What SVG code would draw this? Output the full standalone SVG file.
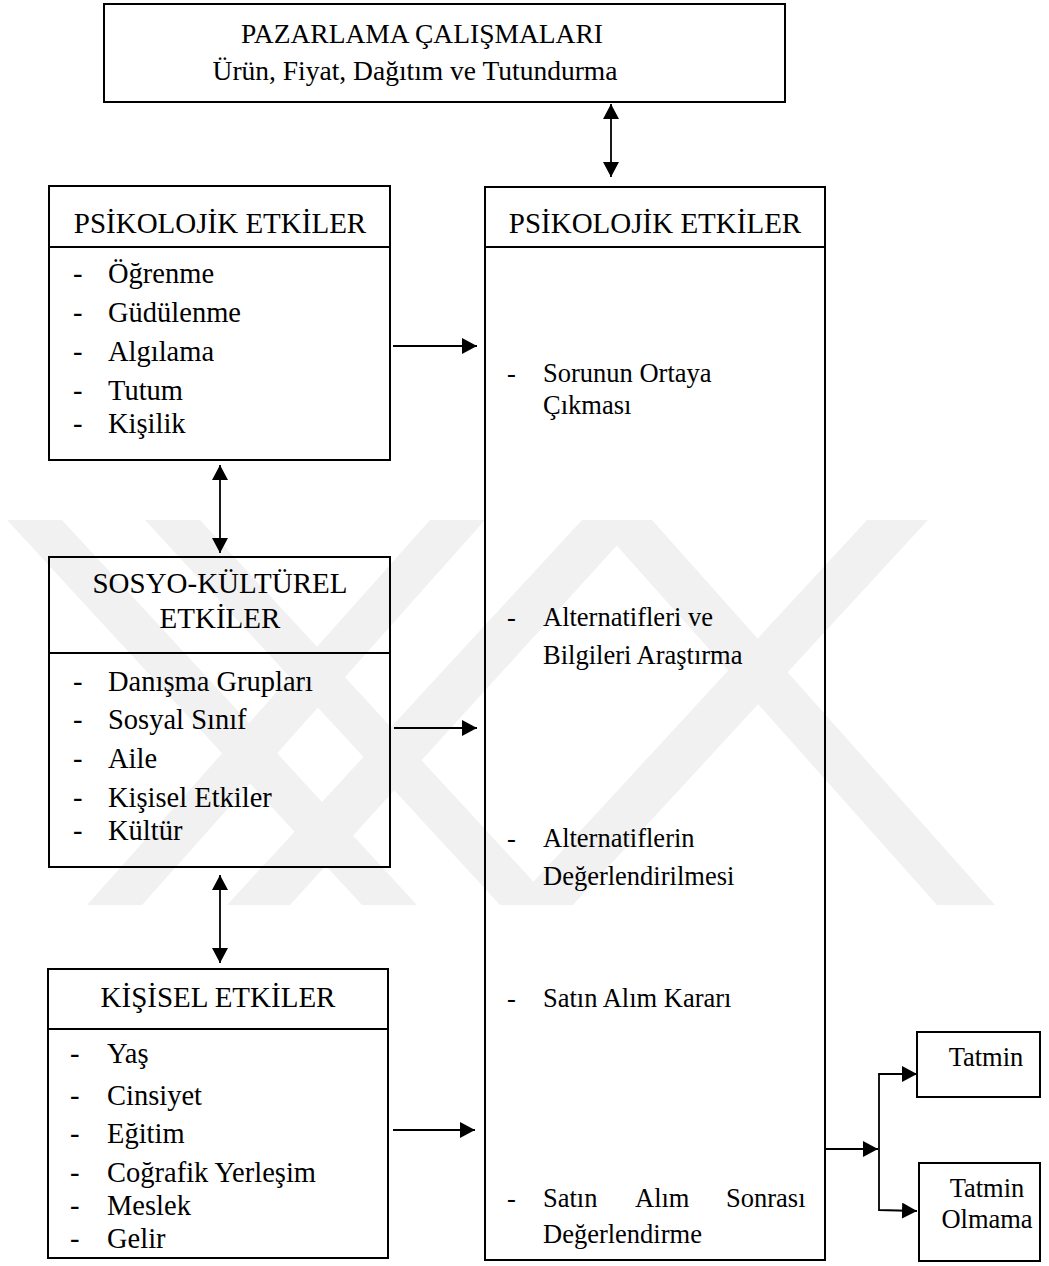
<svg xmlns="http://www.w3.org/2000/svg" width="1049" height="1266" viewBox="0 0 1049 1266">
<style>
.box{fill:none;stroke:#000;stroke-width:2}
.div{stroke:#000;stroke-width:2}
.t{font-family:"Liberation Serif","Times New Roman",serif;fill:#000}
.h{font-size:29px;text-anchor:middle}
.i{font-size:28.5px}
.r{font-size:26.5px}
.c{stroke:#000;stroke-width:1.8;fill:none}
.wm{fill:#f1f1f1}
</style>
<defs>
<marker id="ah" markerUnits="userSpaceOnUse" markerWidth="15" markerHeight="16" refX="15" refY="8" orient="auto-start-reverse" viewBox="0 0 15 16">
<path d="M0,0 L15,8 L0,16 Z" fill="#000"/>
</marker>
</defs>
<rect width="1049" height="1266" fill="#fff"/>

<g id="watermark">
<polygon class="wm" points="7,520 62,520 417,905 362,905"/>
<polygon class="wm" points="145,520 200,520 555,905 500,905"/>
<polygon class="wm" points="430,520 485,520 142,905 87,905"/>
<polygon class="wm" points="582,520 640,520 290,905 227,905"/>
<polygon class="wm" points="594,520 652,520 995,905 937,905"/>
<polygon class="wm" points="867,520 928,520 573,905 512,905"/>
</g>

<g id="pazarlama">
<rect class="box" x="104" y="4" width="681" height="98"/>
<text class="t h" style="font-size:27.5px" x="422" y="43">PAZARLAMA ÇALIŞMALARI</text>
<text class="t h" style="font-size:27.5px" x="415" y="80">Ürün, Fiyat, Dağıtım ve Tutundurma</text>
</g>

<g id="psikolojik-sol">
<rect class="box" x="49" y="186" width="341" height="274"/>
<line class="div" x1="49" y1="247" x2="390" y2="247"/>
<text class="t h" x="220" y="233">PSİKOLOJİK ETKİLER</text>
<g class="t i">
<text x="73" y="283">-</text><text x="108" y="283">Öğrenme</text>
<text x="73" y="322">-</text><text x="108" y="322">Güdülenme</text>
<text x="73" y="361">-</text><text x="108" y="361">Algılama</text>
<text x="73" y="400">-</text><text x="108" y="400">Tutum</text>
<text x="73" y="433">-</text><text x="108" y="433">Kişilik</text>
</g>
</g>

<g id="sosyo-kulturel">
<rect class="box" x="49" y="557" width="341" height="310"/>
<line class="div" x1="49" y1="653" x2="390" y2="653"/>
<text class="t h" x="220" y="593">SOSYO-KÜLTÜREL</text>
<text class="t h" x="220" y="628">ETKİLER</text>
<g class="t i">
<text x="73" y="691">-</text><text x="108" y="691">Danışma Grupları</text>
<text x="73" y="729">-</text><text x="108" y="729">Sosyal Sınıf</text>
<text x="73" y="768">-</text><text x="108" y="768">Aile</text>
<text x="73" y="807">-</text><text x="108" y="807">Kişisel Etkiler</text>
<text x="73" y="840">-</text><text x="108" y="840">Kültür</text>
</g>
</g>

<g id="kisisel">
<rect class="box" x="48" y="969" width="340" height="289"/>
<line class="div" x1="48" y1="1029" x2="388" y2="1029"/>
<text class="t h" x="218" y="1007">KİŞİSEL ETKİLER</text>
<g class="t i">
<text x="70" y="1063">-</text><text x="107" y="1063">Yaş</text>
<text x="70" y="1105">-</text><text x="107" y="1105">Cinsiyet</text>
<text x="70" y="1143">-</text><text x="107" y="1143">Eğitim</text>
<text x="70" y="1182">-</text><text x="107" y="1182">Coğrafik Yerleşim</text>
<text x="70" y="1215">-</text><text x="107" y="1215">Meslek</text>
<text x="70" y="1248">-</text><text x="107" y="1248">Gelir</text>
</g>
</g>

<g id="psikolojik-sag">
<rect class="box" x="485" y="187" width="340" height="1073"/>
<line class="div" x1="485" y1="247" x2="825" y2="247"/>
<text class="t h" x="655" y="233">PSİKOLOJİK ETKİLER</text>
<g class="t r">
<text x="507" y="382">-</text><text x="543" y="382">Sorunun Ortaya</text>
<text x="543" y="414">Çıkması</text>
<text x="507" y="626">-</text><text x="543" y="626">Alternatifleri ve</text>
<text x="543" y="664">Bilgileri Araştırma</text>
<text x="507" y="847">-</text><text x="543" y="847">Alternatiflerin</text>
<text x="543" y="885">Değerlendirilmesi</text>
<text x="507" y="1007">-</text><text x="543" y="1007">Satın Alım Kararı</text>
<text x="507" y="1207">-</text><text x="543" y="1207">Satın</text><text x="635" y="1207">Alım</text><text x="726" y="1207">Sonrası</text>
<text x="543" y="1243">Değerlendirme</text>
</g>
</g>

<g id="tatmin">
<rect class="box" x="917" y="1032" width="123" height="65"/>
<text class="t r" x="986" y="1066" text-anchor="middle">Tatmin</text>
</g>

<g id="tatmin-olmama">
<rect class="box" x="919" y="1163" width="121" height="98"/>
<text class="t r" x="987" y="1197" text-anchor="middle">Tatmin</text>
<text class="t r" x="987" y="1228" text-anchor="middle">Olmama</text>
</g>

<g id="connectors">
<line class="c" x1="611" y1="104" x2="611" y2="177" marker-start="url(#ah)" marker-end="url(#ah)"/>
<line class="c" x1="220" y1="465" x2="220" y2="553" marker-start="url(#ah)" marker-end="url(#ah)"/>
<line class="c" x1="220" y1="875" x2="220" y2="963" marker-start="url(#ah)" marker-end="url(#ah)"/>
<line class="c" x1="393" y1="346" x2="477" y2="346" marker-end="url(#ah)"/>
<line class="c" x1="394" y1="728" x2="477" y2="728" marker-end="url(#ah)"/>
<line class="c" x1="393" y1="1130" x2="475" y2="1130" marker-end="url(#ah)"/>
<line class="c" x1="825" y1="1149" x2="878" y2="1149" marker-end="url(#ah)"/>
<polyline class="c" points="917,1074 879,1074 879,1210 917,1211" marker-start="url(#ah)" marker-end="url(#ah)"/>
</g>
</svg>
